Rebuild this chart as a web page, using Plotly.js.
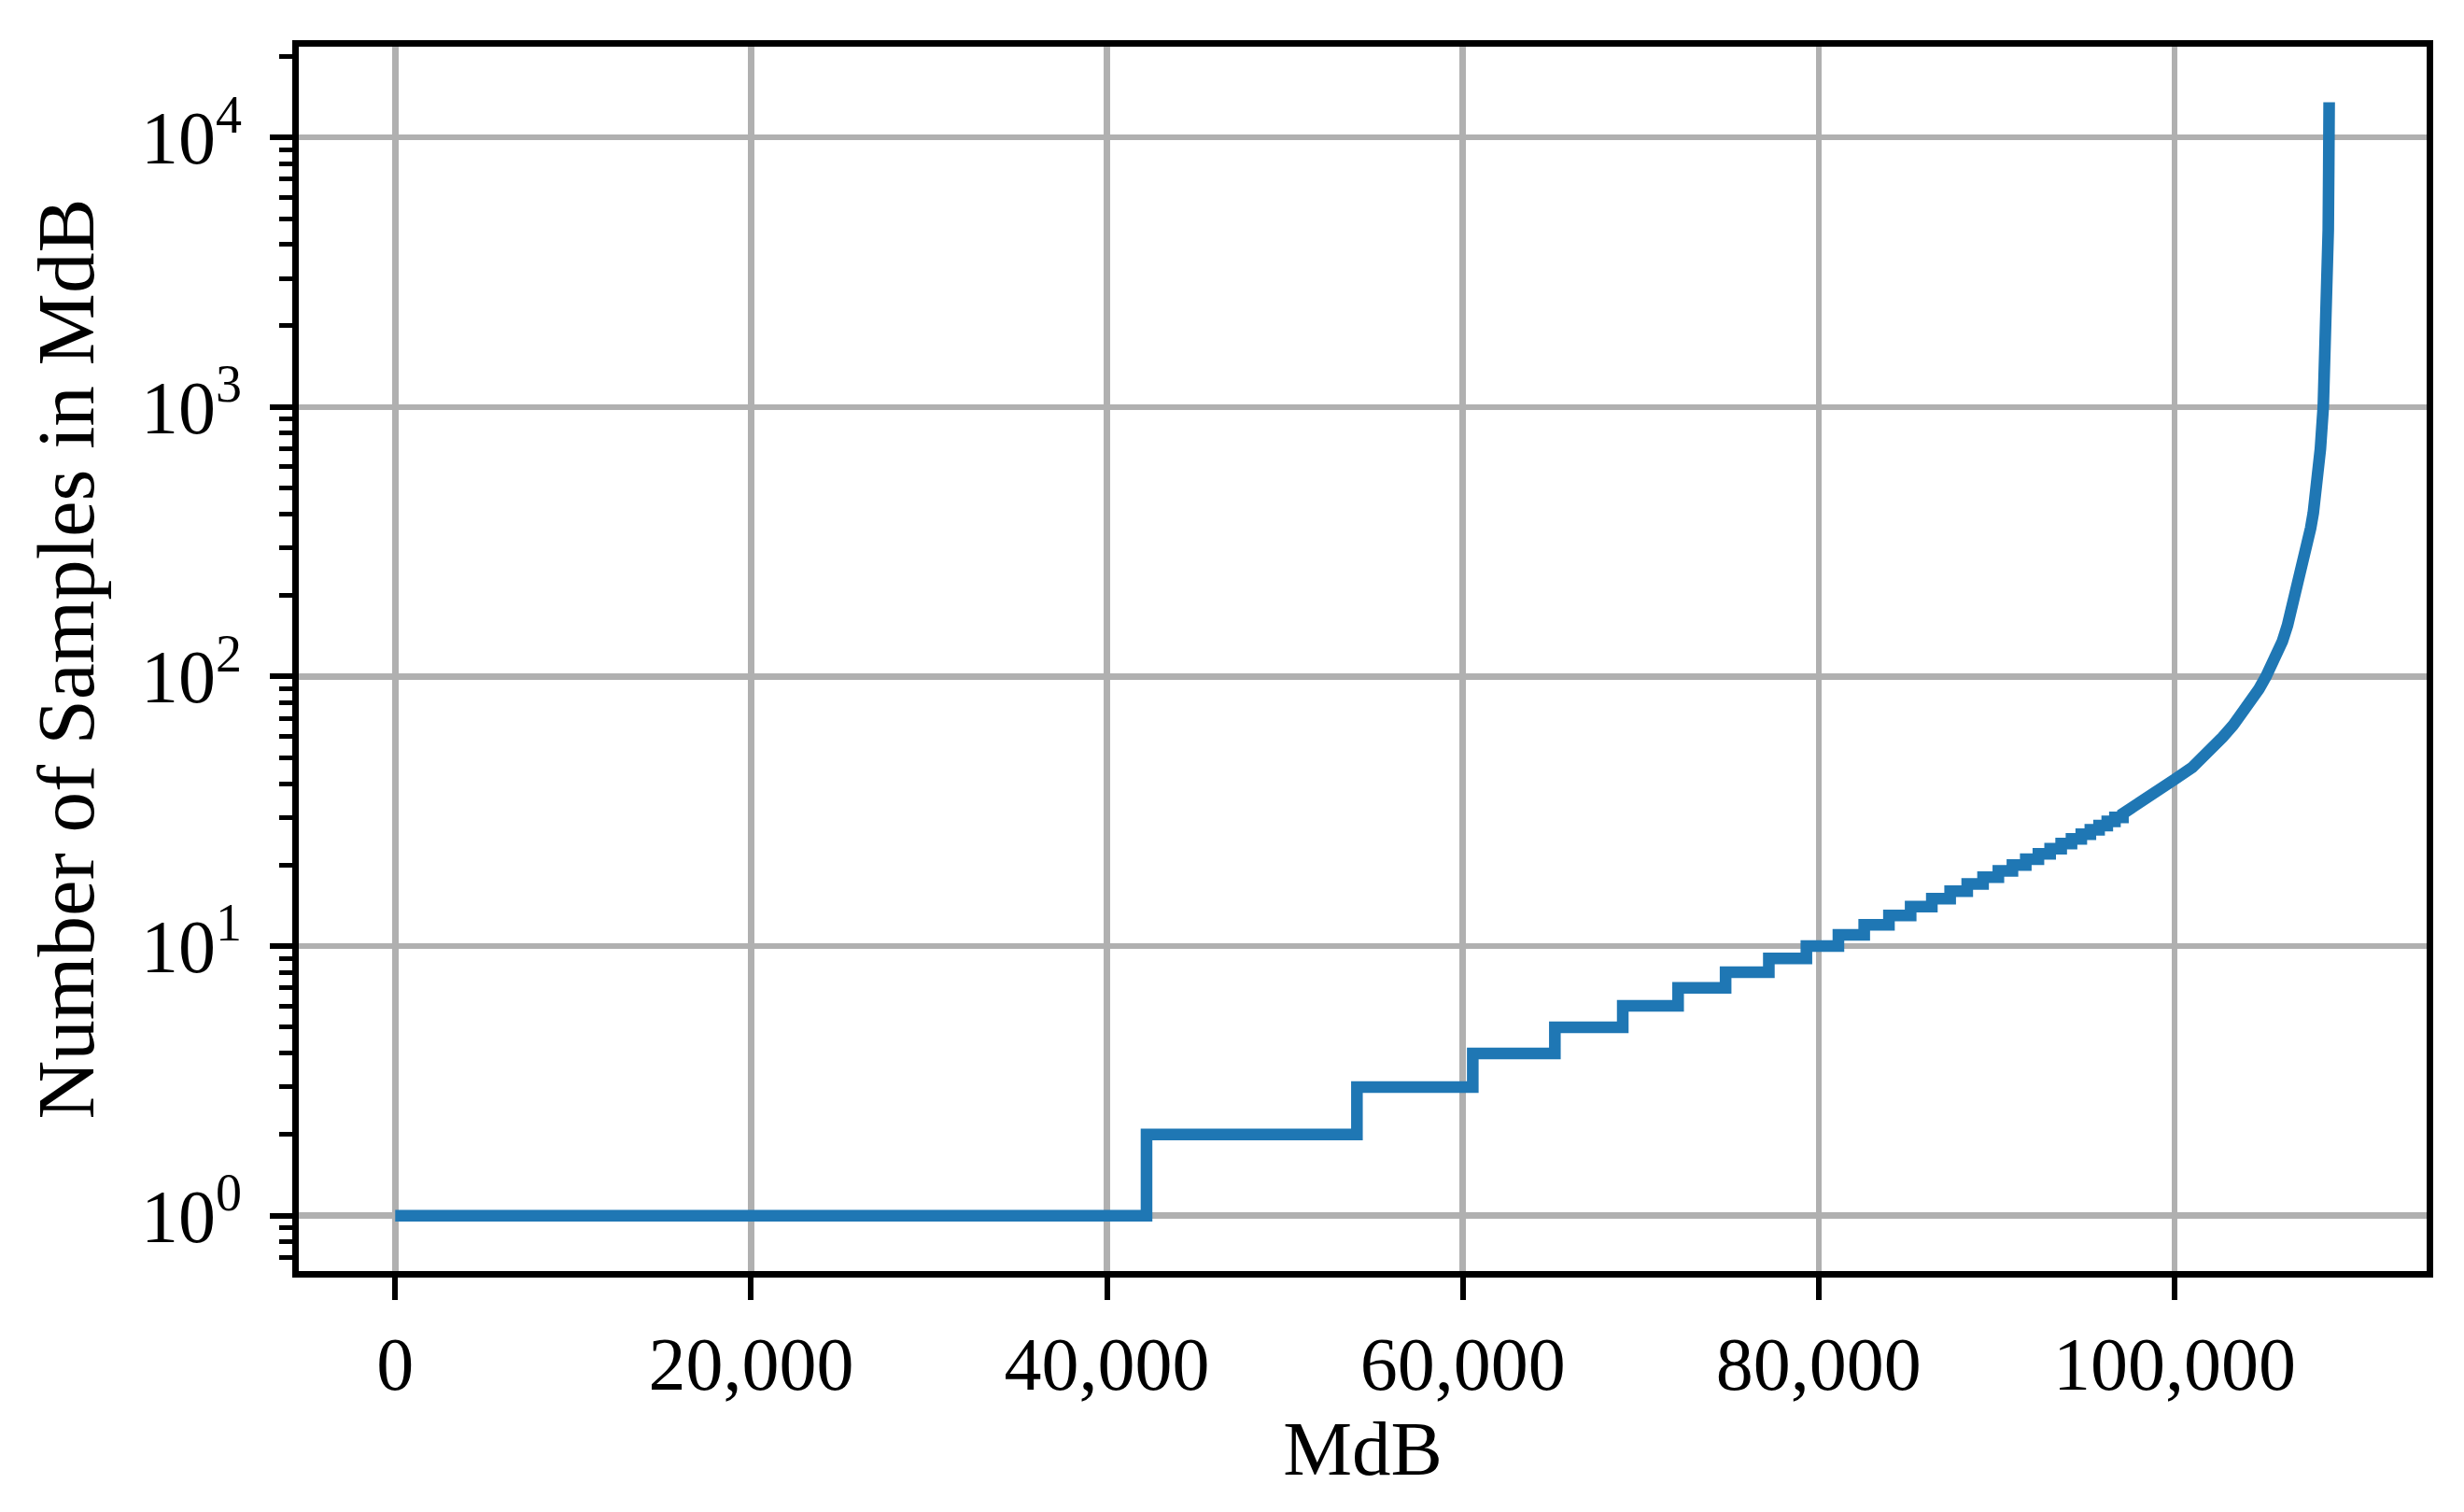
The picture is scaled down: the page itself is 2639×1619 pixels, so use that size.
<!DOCTYPE html>
<html>
<head>
<meta charset="utf-8">
<script src="https://cdn.plot.ly/plotly-3.0.1.min.js"></script>
<style>html,body{margin:0;padding:0;background:#fff;}#chart{width:2639px;height:1619px;}</style>
</head>
<body>
<div id="chart"></div>
<script>
// Step region: x position where each integer count begins
const stepStartX = [0, 42225, 54050, 60560, 65175, 68990, 72100, 74770, 77200, 79310, 81110, 82560, 83950, 85170, 86360, 87390, 88350, 89240, 90100, 90890, 91640, 92350, 93010, 93630, 94210, 94760, 95270, 95760, 96220, 96650];
const stepCounts = [1, 2, 3, 4, 5, 6, 7, 8, 9, 10, 11, 12, 13, 14, 15, 16, 17, 18, 19, 20, 21, 22, 23, 24, 25, 26, 27, 28, 29, 30];
// Tail region (dense steps read as a smooth curve)
const tailX = [97100, 97800, 98500, 99300, 100000, 101000, 102000, 102700, 103300, 103750, 104320, 104750, 105140, 105600, 106060, 106350, 106800, 107150, 107500, 107650, 107800, 107990, 108200, 108360, 108490, 108580, 108640, 108667, 108690];
const tailY = [31, 33.5, 35.5, 38.5, 41.5, 46, 53, 59.5, 66, 72, 80, 90, 100, 115, 135, 155, 200, 250, 316, 355, 405, 500, 700, 1000, 1560, 2670, 4530, 7700, 13500];
// Axis ticks
const xTickVals = [0, 20000, 40000, 60000, 80000, 100000];
const yTickVals = [1, 10, 100, 1000, 10000];
const yTickText = ['10<sup>0</sup>', '10<sup>1</sup>', '10<sup>2</sup>', '10<sup>3</sup>', '10<sup>4</sup>'];

// Build the line: explicit step corners, then the tail curve
const xs = [], ys = [];
for (let i = 0; i < stepStartX.length; i++) {
  const nextX = (i + 1 < stepStartX.length) ? stepStartX[i + 1] : tailX[0];
  xs.push(stepStartX[i]); ys.push(stepCounts[i]);
  xs.push(nextX); ys.push(stepCounts[i]);
}
for (let i = 0; i < tailX.length; i++) { xs.push(tailX[i]); ys.push(tailY[i]); }

const FONT = 'Liberation Serif, Times New Roman, serif';

const trace = {
  x: xs, y: ys, type: 'scatter', mode: 'lines',
  line: {color: '#1f77b4', width: 12.5},
  hoverinfo: 'skip'
};

const layout = {
  width: 2639, height: 1619,
  margin: {l: 320, r: 40, t: 50, b: 258},
  paper_bgcolor: '#fff', plot_bgcolor: '#fff',
  showlegend: false,
  font: {family: FONT, color: '#000', size: 80},
  xaxis: {
    range: [-5420, 114170],
    tickvals: xTickVals,
    tickformat: ',d',
    ticks: 'outside', ticklen: 24, tickwidth: 6, tickcolor: '#000',
    showline: true, linecolor: '#000', linewidth: 7, mirror: true,
    showgrid: true, gridcolor: '#b0b0b0', gridwidth: 6.5,
    zeroline: false,
    tickfont: {family: FONT, size: 80, color: '#000'},
    title: {text: 'MdB', font: {family: FONT, size: 83, color: '#000'}, standoff: 18}
  },
  yaxis: {
    type: 'log',
    range: [-0.2055, 4.3365],
    tickvals: yTickVals,
    ticktext: yTickText,
    ticklabelstandoff: 14,
    ticks: 'outside', ticklen: 24, tickwidth: 6, tickcolor: '#000',
    minor: {ticks: 'outside', ticklen: 14, tickwidth: 5, tickcolor: '#000', dtick: 'D1', showgrid: false},
    showline: true, linecolor: '#000', linewidth: 7, mirror: true,
    showgrid: true, gridcolor: '#b0b0b0', gridwidth: 6.5,
    zeroline: false,
    tickfont: {family: FONT, size: 80, color: '#000'},
    title: {text: 'Number of Samples in MdB', font: {family: FONT, size: 87, color: '#000'}, standoff: 24}
  }
};

Plotly.newPlot('chart', [trace], layout, {staticPlot: true, displayModeBar: false});
</script>
</body>
</html>
